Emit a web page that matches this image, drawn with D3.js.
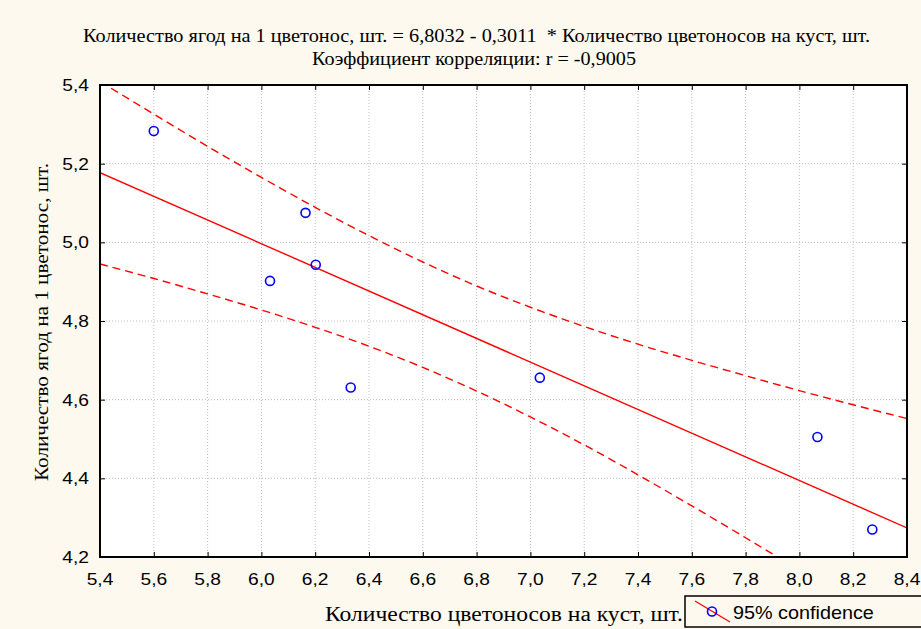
<!DOCTYPE html>
<html><head><meta charset="utf-8">
<script src="https://cdn.jsdelivr.net/npm/d3@7"></script>
<style>html,body{margin:0;padding:0;background:#fdf9ee;}svg{display:block;}text{white-space:pre;}</style>
</head><body>
<svg id="chart" width="921" height="629"></svg>
<script>
// data
const ptX = [5.600, 6.032, 6.164, 6.202, 6.332, 7.035, 8.067, 8.271];
const ptY = [5.283, 4.902, 5.075, 4.943, 4.631, 4.656, 4.505, 4.270];
const fitIntercept = 6.8032, fitSlope = -0.3011;
const bandX = [5.4, 5.6, 5.8, 6.0, 6.2, 6.4, 6.6, 6.8, 7.0, 7.2, 7.4, 7.6, 7.8, 8.0, 8.2, 8.4];
const bandUpper = [5.409, 5.326, 5.244, 5.165, 5.089, 5.017, 4.950, 4.889, 4.835, 4.786, 4.741, 4.700, 4.661, 4.623, 4.587, 4.552];
const bandLower = [4.945, 4.908, 4.869, 4.828, 4.784, 4.736, 4.682, 4.622, 4.556, 4.485, 4.409, 4.330, 4.249, 4.166, 4.081, 3.996];
const xTicks = [5.4, 5.6, 5.8, 6.0, 6.2, 6.4, 6.6, 6.8, 7.0, 7.2, 7.4, 7.6, 7.8, 8.0, 8.2, 8.4];
const yTicks = [4.2, 4.4, 4.6, 4.8, 5.0, 5.2, 5.4];
const title1 = "Количество ягод на 1 цветонос, шт. = 6,8032 - 0,3011  * Количество цветоносов на куст, шт.";
const title2 = "Коэффициент корреляции: r = -0,9005";
const xTitle = "Количество цветоносов на куст, шт.";
const yTitle = "Количество ягод на 1 цветонос, шт.";
const legendLabel = "95% confidence";

const svg = d3.select("#chart");
const L = 100, R = 907, T = 85, B = 557;
const x = d3.scaleLinear().domain([5.4, 8.4]).range([L, R]);
const y = d3.scaleLinear().domain([4.2, 5.4]).range([B, T]);
const fmt = d => d3.format(".1f")(d).replace(".", ",");

svg.append("rect").attr("width", 921).attr("height", 629).attr("fill", "#fdf9ee");
svg.append("rect").attr("x", L).attr("y", T).attr("width", R - L).attr("height", B - T).attr("fill", "#fff");

// grid
const grid = svg.append("g").attr("stroke", "#bdbdbd").attr("stroke-width", 1).attr("stroke-dasharray", "1,2");
xTicks.slice(1, -1).forEach(t => grid.append("line").attr("x1", x(t)).attr("x2", x(t)).attr("y1", T).attr("y2", B));
yTicks.slice(1, -1).forEach(t => grid.append("line").attr("x1", L).attr("x2", R).attr("y1", y(t)).attr("y2", y(t)));

// axes with inward ticks
const sans = "'Liberation Sans', Arial, sans-serif";
svg.append("g").attr("transform", `translate(0,${B})`).call(d3.axisBottom(x).tickValues(xTicks).tickSize(-5).tickFormat(""))
  .call(g => g.select(".domain").remove());
svg.append("g").attr("transform", `translate(0,${T})`).call(d3.axisTop(x).tickValues(xTicks).tickSize(-5).tickFormat(""))
  .call(g => g.select(".domain").remove());
svg.append("g").attr("transform", `translate(${L},0)`).call(d3.axisLeft(y).tickValues(yTicks).tickSize(-5).tickFormat(""))
  .call(g => g.select(".domain").remove());
svg.append("g").attr("transform", `translate(${R},0)`).call(d3.axisRight(y).tickValues(yTicks).tickSize(-5).tickFormat(""))
  .call(g => g.select(".domain").remove());
svg.selectAll(".tick line").attr("stroke", "#000");

// tick labels
xTicks.forEach(t => svg.append("text").attr("transform", `translate(${x(t)},585) scale(1.13,1)`)
  .attr("text-anchor", "middle").attr("font-family", sans).attr("font-size", 17).attr("fill", "#000").text(fmt(t)));
yTicks.forEach(t => svg.append("text").attr("transform", `translate(89,${y(t) + 6}) scale(1.13,1)`)
  .attr("text-anchor", "end").attr("font-family", sans).attr("font-size", 17).attr("fill", "#000").text(fmt(t)));

// clip
svg.append("clipPath").attr("id", "clip").append("rect").attr("x", L).attr("y", T).attr("width", R - L).attr("height", B - T);
const plot = svg.append("g").attr("clip-path", "url(#clip)");

const bandLine = arr => d3.line().x((d, i) => x(bandX[i])).y(d => y(d)).curve(d3.curveMonotoneX)(arr);
plot.append("path").attr("d", bandLine(bandUpper)).attr("fill", "none").attr("stroke", "#ff0000").attr("stroke-width", 1.4).attr("stroke-dasharray", "8,5");
plot.append("path").attr("d", bandLine(bandLower)).attr("fill", "none").attr("stroke", "#ff0000").attr("stroke-width", 1.4).attr("stroke-dasharray", "8,5");
plot.append("line").attr("x1", x(5.4)).attr("y1", y(fitIntercept + fitSlope * 5.4))
  .attr("x2", x(8.4)).attr("y2", y(fitIntercept + fitSlope * 8.4)).attr("stroke", "#ff0000").attr("stroke-width", 1.4);

plot.selectAll("circle.pt").data(ptX).enter().append("circle").attr("class", "pt")
  .attr("cx", d => x(d)).attr("cy", (d, i) => y(ptY[i])).attr("r", 4.5)
  .attr("fill", "none").attr("stroke", "#0000ff").attr("stroke-width", 1.6);

// frame
svg.append("rect").attr("x", L).attr("y", T).attr("width", R - L).attr("height", B - T).attr("fill", "none").attr("stroke", "#000").attr("stroke-width", 2);

// titles
const serif = "'Liberation Serif', 'Times New Roman', serif";
svg.append("text").attr("x", 83).attr("y", 42).attr("font-family", serif).attr("font-size", 19)
  .attr("textLength", 787).attr("lengthAdjust", "spacingAndGlyphs").attr("fill", "#000").text(title1);
svg.append("text").attr("x", 312).attr("y", 65).attr("font-family", serif).attr("font-size", 19)
  .attr("textLength", 324).attr("lengthAdjust", "spacingAndGlyphs").attr("fill", "#000").text(title2);
svg.append("text").attr("x", 325).attr("y", 621).attr("font-family", serif).attr("font-size", 20)
  .attr("textLength", 358).attr("lengthAdjust", "spacingAndGlyphs").attr("fill", "#000").text(xTitle);
svg.append("text").attr("transform", "translate(48,481) rotate(-90)").attr("font-family", serif).attr("font-size", 18)
  .attr("textLength", 318).attr("lengthAdjust", "spacingAndGlyphs").attr("fill", "#000").text(yTitle);

// legend
const lg = svg.append("g");
lg.append("rect").attr("x", 685).attr("y", 596).attr("width", 260).attr("height", 31).attr("fill", "#fdf9ee").attr("stroke", "#000").attr("stroke-width", 1.5);
lg.append("line").attr("x1", 695).attr("y1", 601).attr("x2", 730).attr("y2", 622).attr("stroke", "#ff0000").attr("stroke-width", 1.3);
lg.append("circle").attr("cx", 712).attr("cy", 611.5).attr("r", 4.5).attr("fill", "none").attr("stroke", "#0000ff").attr("stroke-width", 1.6);
lg.append("text").attr("transform", "translate(733,619) scale(1.1,1)").attr("font-family", sans).attr("font-size", 18).attr("fill", "#000").text(legendLabel);
</script>
</body></html>
